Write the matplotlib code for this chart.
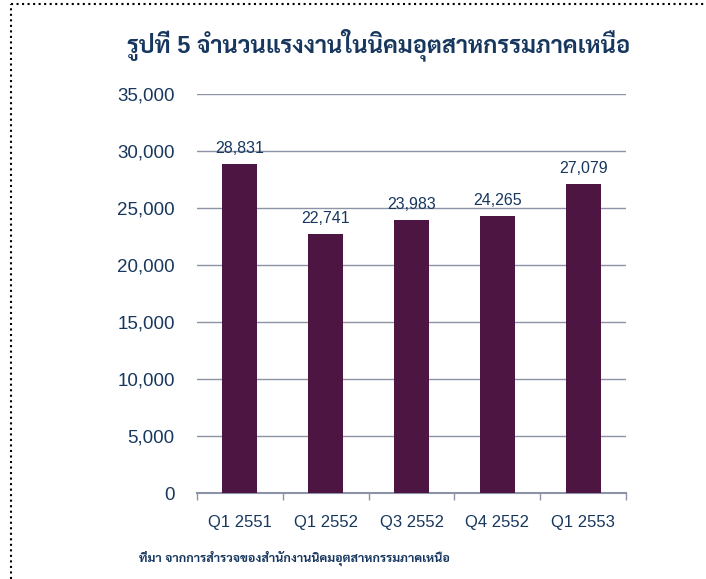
import matplotlib
matplotlib.use('Agg')
import matplotlib.pyplot as plt
from matplotlib import font_manager
from matplotlib.lines import Line2D

# data
categories = ['Q1 2551', 'Q1 2552', 'Q3 2552', 'Q4 2552', 'Q1 2553']
workers = [28831, 22741, 23983, 24265, 27079]
yticks = [0, 5000, 10000, 15000, 20000, 25000, 30000, 35000]

title = 'รูปที่ 5 จำนวนแรงงานในนิคมอุตสาหกรรมภาคเหนือ'
source = 'ที่มา จากการสำรวจของสำนักงานนิคมอุตสาหกรรมภาคเหนือ'

# pick a thai font that is actually installed (looped, with a bold face)
have = set(f.name for f in font_manager.fontManager.ttflist)
thai = 'DejaVu Sans'
for cand in ['Sarabun', 'Noto Sans Thai Looped', 'Noto Sans Thai', 'Loma', 'Garuda']:
    if cand in have:
        thai = cand
        break
plt.rcParams['font.family'] = ['Liberation Sans', thai]

txt_col = '#17375E'
bar_col = '#4D1642'
grid_col = '#8C93A6'

fig = plt.figure(figsize=(7.06, 5.79), dpi=100)
ax = fig.add_axes([197 / 706, 1 - 493 / 579, (626 - 197) / 706, (493 - 94) / 579])

x = range(len(categories))
bars = ax.bar(x, workers, width=0.41, color=bar_col, zorder=3)
for b, v in zip(bars, workers):
    ax.text(b.get_x() + b.get_width() / 2, v + 700, f'{v:,}', ha='center', va='bottom',
            fontsize=11.5, color=txt_col, zorder=4)

ax.set_xlim(-0.5, len(categories) - 0.5)
ax.set_ylim(0, 35000)
ax.set_yticks(yticks)
ax.set_yticklabels([f'{t:,}' for t in yticks], fontsize=13.5, color=txt_col)
ax.tick_params(axis='y', length=0, pad=16)
ax.yaxis.grid(True, color=grid_col, linewidth=1, zorder=0)

ax.set_xticks(x)
ax.set_xticklabels(categories, fontsize=12, color=txt_col)
ax.set_xticks([i - 0.5 for i in range(len(categories) + 1)], minor=True)
ax.tick_params(axis='x', which='major', length=0, pad=16)
ax.tick_params(axis='x', which='minor', length=5, color=grid_col, width=1)

for s in ['left', 'right', 'top']:
    ax.spines[s].set_visible(False)
ax.spines['bottom'].set_color(grid_col)
ax.spines['bottom'].set_linewidth(1.5)

fig.text(379 / 706, 1 - 45 / 579, title, ha='center', va='center', fontsize=17,
         fontweight='bold', color=txt_col)
fig.text(139 / 706, 1 - 558 / 579, source, ha='left', va='center', fontsize=9,
         fontweight='bold', color=txt_col)

# dotted frame on top and left
fig.add_artist(Line2D([11 / 706, 11 / 706], [0, 1 - 4 / 579], transform=fig.transFigure,
                      color='black', linestyle=':', linewidth=1.5))
fig.add_artist(Line2D([11 / 706, 1], [1 - 4 / 579, 1 - 4 / 579], transform=fig.transFigure,
                      color='black', linestyle=':', linewidth=1.5))

fig.savefig('out.png')
